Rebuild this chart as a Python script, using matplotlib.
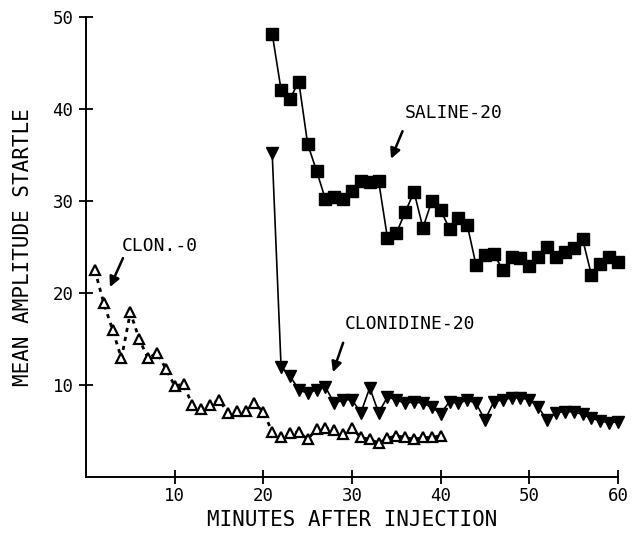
import matplotlib.pyplot as plt
import numpy as np

# minutes after injection
minutes_clon0 = list(range(1, 41))
minutes_20 = list(range(21, 61))

clon0 = [22.5, 18.9, 16.0, 12.9, 17.9, 15.0, 12.9, 13.5, 11.8, 9.9,
         10.1, 7.8, 7.4, 7.8, 8.4, 7.0, 7.2, 7.2, 8.0, 7.1,
         4.9, 4.3, 4.8, 4.9, 4.1, 5.2, 5.3, 5.1, 4.7, 5.3,
         4.3, 4.1, 3.7, 4.2, 4.5, 4.3, 4.1, 4.3, 4.3, 4.5]

saline20 = [48.2, 42.1, 41.1, 43.0, 36.2, 33.3, 30.2, 30.4, 30.2, 31.1,
            32.2, 32.1, 32.2, 26.0, 26.5, 28.8, 31.0, 27.1, 30.0, 29.0,
            27.0, 28.2, 27.4, 23.0, 24.1, 24.3, 22.5, 23.9, 23.8, 22.9,
            23.9, 25.0, 23.9, 24.5, 24.9, 25.9, 22.0, 23.2, 23.9, 23.4]

clonidine20 = [35.2, 12.0, 11.0, 9.5, 9.1, 9.5, 9.8, 8.0, 8.4, 8.4,
               7.0, 9.7, 7.0, 8.7, 8.4, 8.0, 8.2, 8.0, 7.6, 6.9,
               8.2, 8.0, 8.4, 8.0, 6.2, 8.2, 8.4, 8.6, 8.6, 8.4,
               7.6, 6.2, 7.0, 7.1, 7.1, 6.8, 6.4, 6.1, 5.9, 6.0]

xticks = [10, 20, 30, 40, 50, 60]
yticks = [10, 20, 30, 40, 50]

plt.rcParams['font.family'] = ['DejaVu Sans Mono']

fig = plt.figure(figsize=(6.39, 5.36), dpi=100)
ax = fig.add_axes([0.1346, 0.110, 0.8325, 0.858])

ax.plot(minutes_clon0, clon0, color='black', linestyle=(0, (1.5, 1.8)), linewidth=2,
        marker='^', markersize=7, markerfacecolor='white', markeredgecolor='black',
        markeredgewidth=1.6)
ax.plot(minutes_20, saline20, color='black', linewidth=1.2,
        marker='s', markersize=8.5, markerfacecolor='black', markeredgecolor='black')
ax.plot(minutes_20, clonidine20, color='black', linewidth=1.2,
        marker='v', markersize=8, markerfacecolor='black', markeredgecolor='black')

ax.set_xlim(0, 60)
ax.set_ylim(0, 50)
ax.set_xticks(xticks)
ax.set_yticks(yticks)
ax.spines['top'].set_visible(False)
ax.spines['right'].set_visible(False)
ax.spines['left'].set_linewidth(1.4)
ax.spines['bottom'].set_linewidth(1.4)
ax.tick_params(direction='inout', length=10, width=1.3, labelsize=12.5)
ax.tick_params(axis='x', pad=2)
ax.tick_params(axis='y', pad=4)
for ln in ax.lines:
    ln.set_clip_on(False)

ax.set_xlabel('MINUTES AFTER INJECTION', fontsize=15, labelpad=4)
ax.set_ylabel('MEAN AMPLITUDE STARTLE', fontsize=15, labelpad=14)

# labels with short arrows
arrow = dict(arrowstyle='-|>', color='black', lw=1.8, mutation_scale=15,
             shrinkA=0, shrinkB=0)
ax.text(36.0, 39.6, 'SALINE-20', fontsize=13, va='center', ha='left')
ax.annotate('', xy=(34.4, 34.6), xytext=(35.7, 37.6), arrowprops=arrow)
ax.text(29.2, 16.6, 'CLONIDINE-20', fontsize=13, va='center', ha='left')
ax.annotate('', xy=(27.85, 11.4), xytext=(29.0, 14.6), arrowprops=arrow)
ax.text(4.06, 25.1, 'CLON.-0', fontsize=13, va='center', ha='left')
ax.annotate('', xy=(2.7, 20.65), xytext=(4.17, 23.8), arrowprops=arrow)

fig.savefig('out.png', dpi=100)
